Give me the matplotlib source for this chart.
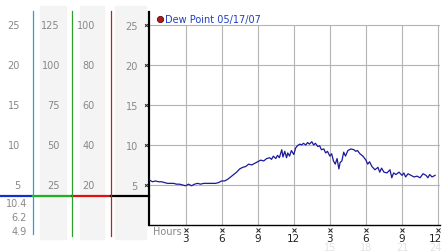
import numpy as np
import matplotlib.pyplot as plt
from matplotlib.lines import Line2D
from matplotlib.patches import Rectangle
import matplotlib.transforms as mtransforms

# dew point readings (hour of day, deg C)
hours = [0.0, 0.25, 0.5, 0.75, 1.0, 1.25, 1.5, 1.75, 2.0, 2.25, 2.5, 2.75, 3.0, 3.25, 3.5, 3.75,
         4.0, 4.25, 4.5, 4.75, 5.0, 5.25, 5.5, 5.75, 6.0, 6.25, 6.5, 6.75, 7.0, 7.25, 7.5, 7.75,
         8.0, 8.25, 8.5, 8.75, 9.0, 9.25, 9.5, 9.75, 10.0, 10.15, 10.3, 10.5, 10.65, 10.8, 11.0,
         11.1, 11.25, 11.4, 11.5, 11.65, 11.8, 12.0, 12.15, 12.3, 12.5, 12.65, 12.8, 13.0, 13.15,
         13.3, 13.5, 13.65, 13.8, 14.0, 14.15, 14.3, 14.5, 14.65, 14.8, 15.0, 15.15, 15.3, 15.45,
         15.6, 15.75, 15.85, 16.0, 16.15, 16.3, 16.5, 16.75, 17.0, 17.15, 17.3, 17.5, 17.75, 18.0,
         18.15, 18.3, 18.5, 18.75, 19.0, 19.15, 19.3, 19.5, 19.75, 20.0, 20.15, 20.3, 20.5, 20.75,
         21.0, 21.15, 21.3, 21.5, 21.75, 22.0, 22.25, 22.5, 22.75, 23.0, 23.15, 23.3, 23.5, 23.75]
dewpt = [5.6, 5.4, 5.5, 5.4, 5.4, 5.3, 5.2, 5.2, 5.2, 5.1, 5.1, 5.0, 4.9, 5.1, 4.9, 5.1,
         5.2, 5.1, 5.2, 5.2, 5.2, 5.2, 5.2, 5.3, 5.5, 5.5, 5.7, 6.0, 6.3, 6.6, 7.0, 7.2,
         7.3, 7.6, 7.5, 7.7, 7.9, 8.1, 8.0, 8.3, 8.4, 8.2, 8.6, 8.3, 8.7, 8.4, 9.4,
         8.5, 9.2, 8.4, 9.0, 8.6, 9.3, 8.8, 9.6, 9.9, 10.1, 10.0, 10.2, 10.0, 10.3,
         10.1, 10.4, 10.0, 10.2, 9.8, 9.9, 9.4, 9.5, 9.0, 9.2, 8.6, 8.9, 8.0, 7.6,
         8.3, 7.0, 7.8, 8.0, 9.1, 8.6, 9.3, 9.5, 9.4, 9.2, 9.3, 8.9, 8.6, 8.1,
         7.6, 7.9, 7.3, 6.9, 7.2, 6.6, 7.1, 6.6, 6.5, 6.9, 5.9, 6.5, 6.3, 6.6,
         6.2, 6.5, 6.0, 6.4, 6.2, 6.0, 6.1, 5.9, 6.4, 6.2, 5.9, 6.3, 6.0, 6.2]

yticks = [5, 10, 15, 20, 25]
col1_labels = ["5", "10", "15", "20", "25"]
col2_labels = ["25", "50", "75", "100", "125"]
col3_labels = ["20", "40", "60", "80", "100"]
xticks = [3, 6, 9, 12, 15, 18, 21, 24]
xlabels = ["3", "6", "9", "12", "3", "6", "9", "12"]
faint_ticks = [15, 18, 21, 24]
faint_labels = ["15", "18", "21", "24"]
stats = ["10.4", "6.2", "4.9"]
current = 3.6

W, H = 442, 253
fig = plt.figure(figsize=(W / 100, H / 100), dpi=100)

def fx(x):
    return x / W

def fy(y):
    return 1 - y / H

ax = fig.add_axes([fx(149), fy(226), fx(440 - 149), (226 - 13) / H])
ax.set_xlim(-0.04, 24.16)
ax.set_ylim(0, 26.6)
for s in ["top", "right"]:
    ax.spines[s].set_visible(False)
ax.spines["left"].set_linewidth(1.6)
ax.spines["bottom"].set_linewidth(1.0)
ax.set_facecolor("white")

for y in yticks:
    ax.axhline(y, color="#b4b4b4", lw=0.8, zorder=1)
ax.vlines(xticks, 0, 25, color="#b4b4b4", lw=0.8, zorder=1)

ax.plot(hours, dewpt, color="#1a1a9a", lw=0.9, zorder=3)

ax.set_yticks(yticks)
ax.set_yticklabels(col1_labels, color="#888888", fontsize=7)
ax.tick_params(axis="y", length=0, pad=8)
ax.plot([-0.3] * len(yticks), yticks, "x", ms=2.0, mew=0.7, color="#222222", clip_on=False, zorder=5)

ax.set_xticks(xticks)
ax.set_xticklabels(xlabels, color="#222222", fontsize=7.5)
ax.tick_params(axis="x", length=0, pad=6)
shift = mtransforms.ScaledTranslation(4 / 100, 0, fig.dpi_scale_trans)
last = ax.get_xticklabels()[-1]
last.set_horizontalalignment("right")
last.set_transform(last.get_transform() + shift)

tx = mtransforms.blended_transform_factory(ax.transData, fig.transFigure)
ax.plot(xticks, [fy(231)] * len(xticks), "x", ms=2.2, mew=0.7, color="#222222",
        transform=tx, clip_on=False)
for x, lab in zip(faint_ticks, faint_labels):
    if x == faint_ticks[-1]:
        ax.text(x, fy(248), lab, transform=tx + shift, ha="right", va="center", fontsize=7, color="#e2e2e2")
    else:
        ax.text(x, fy(248), lab, transform=tx, ha="center", va="center", fontsize=7, color="#e2e2e2")
fig.text(fx(153), fy(232), "Hours", ha="left", va="center", fontsize=7, color="#888888")

# legend
fig.add_artist(Line2D([fx(160)], [fy(20)], marker="o", ms=4.5, color="#b01818",
                      mec="#5a0a0a", mew=0.6, transform=fig.transFigure))
fig.text(fx(165), fy(20), "Dew Point 05/17/07", ha="left", va="center", fontsize=7, color="#1f3fbf")

# left scale panel
for x0, x1 in [(40, 66), (80, 104), (115, 146)]:
    fig.add_artist(Rectangle((fx(x0), fy(240)), fx(x1 - x0), (240 - 7) / H,
                             transform=fig.transFigure, color="#f4f4f4", zorder=0))
ty = mtransforms.blended_transform_factory(fig.transFigure, ax.transData)
for y, a, b, c in zip(yticks, col1_labels, col2_labels, col3_labels):
    ax.text(fx(20), y, a, transform=ty, ha="right", va="center", fontsize=7, color="#888888", clip_on=False)
    ax.text(fx(60), y, b, transform=ty, ha="right", va="center", fontsize=7, color="#888888", clip_on=False)
    ax.text(fx(95), y, c, transform=ty, ha="right", va="center", fontsize=7, color="#888888", clip_on=False)

for x, col, yb in [(33, "#2a9fd0", 235), (72, "#2ea02e", 237), (111, "#c02020", 237)]:
    fig.add_artist(Line2D([fx(x), fx(x)], [fy(12), fy(yb)], color=col, lw=0.9, transform=fig.transFigure))

for x0, x1, col in [(0, 33, "#1030d0"), (33, 72, "#20b020"), (72, 111, "#e01010"), (111, 149, "#000000")]:
    ax.plot([fx(x0), fx(x1)], [current, current], color=col, lw=1.6, transform=ty, clip_on=False)

for yy, s in zip([204, 218.5, 232], stats):
    fig.text(fx(27), fy(yy), s, ha="right", va="center", fontsize=7, color="#888888")

fig.savefig("out.png", dpi=100)
